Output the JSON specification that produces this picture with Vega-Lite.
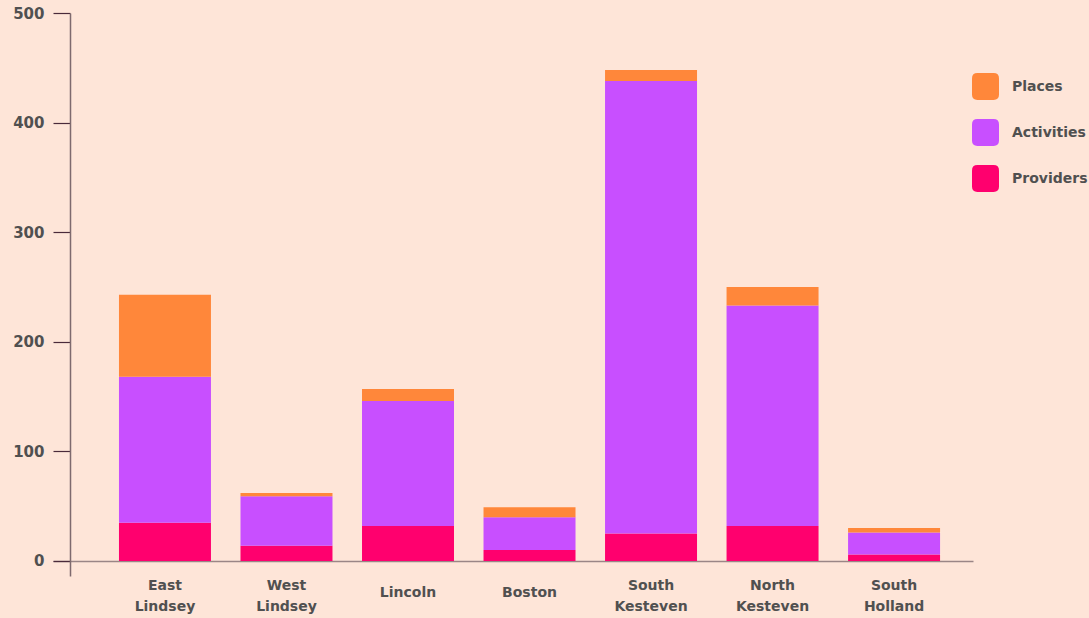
{
  "$schema": "https://vega.github.io/schema/vega-lite/v6.json",
  "width": 920,
  "height": 563,
  "autosize": {"type": "none"},
  "padding": {"left": 53, "top": 13, "right": 116, "bottom": 42},
  "background": "#FEE5D8",
  "config": {
    "view": {"stroke": null},
    "font": "DejaVu Sans",
    "axis": {"grid": false, "labelFont": "DejaVu Sans", "labelFontWeight": "bold", "labelColor": "#505050", "labelFontSize": 14},
    "legend": {"labelFont": "DejaVu Sans", "labelFontWeight": "bold", "labelColor": "#505050", "labelFontSize": 14}
  },
  "data": {
    "values": [
      {"district": "East Lindsey", "type": "Providers", "rank": 1, "count": 35},
      {"district": "East Lindsey", "type": "Activities", "rank": 2, "count": 133},
      {"district": "East Lindsey", "type": "Places", "rank": 3, "count": 75},
      {"district": "West Lindsey", "type": "Providers", "rank": 1, "count": 14},
      {"district": "West Lindsey", "type": "Activities", "rank": 2, "count": 45},
      {"district": "West Lindsey", "type": "Places", "rank": 3, "count": 3},
      {"district": "Lincoln", "type": "Providers", "rank": 1, "count": 32},
      {"district": "Lincoln", "type": "Activities", "rank": 2, "count": 114},
      {"district": "Lincoln", "type": "Places", "rank": 3, "count": 11},
      {"district": "Boston", "type": "Providers", "rank": 1, "count": 10},
      {"district": "Boston", "type": "Activities", "rank": 2, "count": 30},
      {"district": "Boston", "type": "Places", "rank": 3, "count": 9},
      {"district": "South Kesteven", "type": "Providers", "rank": 1, "count": 25},
      {"district": "South Kesteven", "type": "Activities", "rank": 2, "count": 413},
      {"district": "South Kesteven", "type": "Places", "rank": 3, "count": 10},
      {"district": "North Kesteven", "type": "Providers", "rank": 1, "count": 32},
      {"district": "North Kesteven", "type": "Activities", "rank": 2, "count": 201},
      {"district": "North Kesteven", "type": "Places", "rank": 3, "count": 17},
      {"district": "South Holland", "type": "Providers", "rank": 1, "count": 6},
      {"district": "South Holland", "type": "Activities", "rank": 2, "count": 20},
      {"district": "South Holland", "type": "Places", "rank": 3, "count": 4}
    ]
  },
  "mark": {"type": "bar"},
  "encoding": {
    "x": {
      "field": "district",
      "type": "nominal",
      "sort": null,
      "scale": {"paddingInner": 0.243, "paddingOuter": 0.407, "align": 0.667},
      "axis": {
        "title": null,
        "labelAngle": 0,
        "ticks": false,
        "tickSize": 0,
        "offset": -15,
        "domainColor": "#9a8686",
        "domainWidth": 1.5,
        "labelPadding": 24,
        "labelBaseline": {"condition": {"test": "indexof(datum.label, ' ') < 0", "value": "top"}, "value": "middle"},
        "labelLineHeight": 21,
        "labelExpr": "split(datum.label, ' ')"
      }
    },
    "y": {
      "field": "count",
      "type": "quantitative",
      "stack": "zero",
      "scale": {"domain": [-13.7, 500], "nice": false, "zero": false},
      "axis": {
        "title": null,
        "values": [0, 100, 200, 300, 400, 500],
        "offset": -17,
        "tickSize": 17,
        "tickColor": "#4a2a3a",
        "tickWidth": 1.2,
        "domainColor": "#7e6a6e",
        "domainWidth": 1.5,
        "labelPadding": 9,
        "labelFontSize": 15
      }
    },
    "color": {
      "field": "type",
      "type": "nominal",
      "scale": {"domain": ["Places", "Activities", "Providers"], "range": ["#FF873A", "#C84FFF", "#FF006E"]},
      "legend": {
        "title": null,
        "orient": "none",
        "legendX": 919,
        "legendY": 60,
        "symbolType": "M-0.6,-1 H0.6 Q1,-1 1,-0.6 V0.6 Q1,1 0.6,1 H-0.6 Q-1,1 -1,0.6 V-0.6 Q-1,-1 -0.6,-1 Z",
        "symbolSize": 729,
        "symbolStrokeWidth": 0,
        "symbolOpacity": 1,
        "rowPadding": 19,
        "labelOffset": 13
      }
    },
    "order": {"field": "rank", "type": "quantitative"}
  }
}
